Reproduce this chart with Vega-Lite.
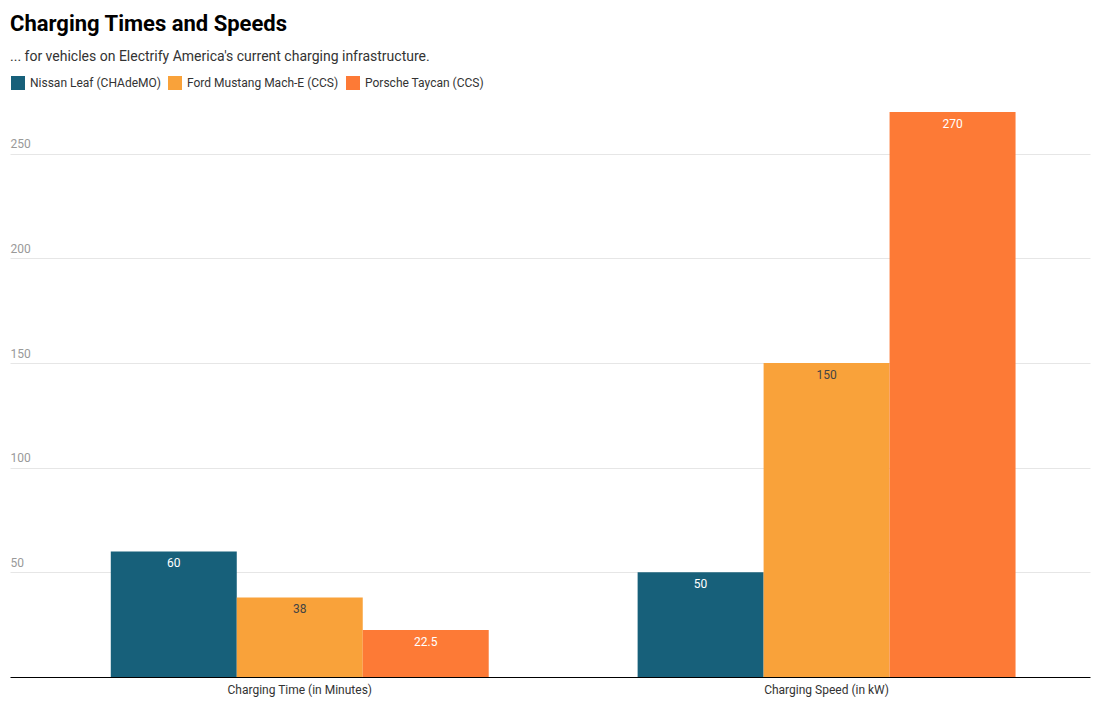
{
  "$schema": "https://vega.github.io/schema/vega-lite/v6.json",
  "width": 1080,
  "height": 565,
  "padding": {"left": 10, "top": 13, "right": 9, "bottom": 5},
  "config": {
    "font": "Roboto",
    "view": {"stroke": null}
  },
  "title": {
    "text": "Charging Times and Speeds",
    "subtitle": "... for vehicles on Electrify America's current charging infrastructure.",
    "anchor": "start",
    "frame": "group",
    "fontSize": 22,
    "fontWeight": "bold",
    "color": "#000000",
    "subtitleFontSize": 14,
    "subtitleColor": "#333333",
    "subtitlePadding": 14,
    "offset": 10
  },
  "data": {
    "values": [
      {"metric": "Charging Time (in Minutes)", "vehicle": "Nissan Leaf (CHAdeMO)", "value": 60},
      {"metric": "Charging Time (in Minutes)", "vehicle": "Ford Mustang Mach-E (CCS)", "value": 38},
      {"metric": "Charging Time (in Minutes)", "vehicle": "Porsche Taycan (CCS)", "value": 22.5},
      {"metric": "Charging Speed (in kW)", "vehicle": "Nissan Leaf (CHAdeMO)", "value": 50},
      {"metric": "Charging Speed (in kW)", "vehicle": "Ford Mustang Mach-E (CCS)", "value": 150},
      {"metric": "Charging Speed (in kW)", "vehicle": "Porsche Taycan (CCS)", "value": 270}
    ]
  },
  "encoding": {
    "x": {
      "field": "metric",
      "type": "nominal",
      "sort": ["Charging Time (in Minutes)", "Charging Speed (in kW)"],
      "scale": {"paddingInner": 0, "paddingOuter": 0.025, "align": 1},
      "axis": {
        "title": null,
        "labelAngle": 0,
        "labelFontSize": 12,
        "labelColor": "#333333",
        "ticks": false,
        "labelPadding": 7,
        "domainColor": "#000000",
        "domainWidth": 1
      }
    },
    "xOffset": {
      "field": "vehicle",
      "sort": ["Nissan Leaf (CHAdeMO)", "Ford Mustang Mach-E (CCS)", "Porsche Taycan (CCS)"],
      "scale": {"paddingInner": 0, "paddingOuter": 0.591}
    },
    "y": {
      "field": "value",
      "type": "quantitative",
      "scale": {"domain": [0, 270], "nice": false},
      "axis": {
        "title": null,
        "values": [50, 100, 150, 200, 250],
        "domain": false,
        "ticks": false,
        "labelAlign": "left",
        "labelBaseline": "bottom",
        "labelPadding": 0,
        "labelOffset": -3,
        "labelFontSize": 12,
        "labelColor": "#999999",
        "gridColor": "#e6e6e6"
      }
    }
  },
  "layer": [
    {
      "mark": {"type": "bar"},
      "encoding": {
        "color": {
          "field": "vehicle",
          "type": "nominal",
          "scale": {
            "domain": ["Nissan Leaf (CHAdeMO)", "Ford Mustang Mach-E (CCS)", "Porsche Taycan (CCS)"],
            "range": ["#17607a", "#f9a23a", "#fd7a36"]
          },
          "legend": {
            "title": null,
            "orient": "top",
            "direction": "horizontal",
            "symbolType": "square",
            "symbolSize": 196,
            "symbolOpacity": 1,
            "labelFontSize": 12,
            "labelColor": "#333333",
            "columnPadding": 6,
            "offset": 22
          }
        }
      }
    },
    {
      "mark": {"type": "text", "baseline": "middle", "dy": 12, "fontSize": 12},
      "encoding": {
        "text": {"field": "value", "type": "quantitative"},
        "color": {
          "condition": {"test": "datum.vehicle === 'Ford Mustang Mach-E (CCS)'", "value": "#444444"},
          "value": "#ffffff"
        }
      }
    }
  ]
}
